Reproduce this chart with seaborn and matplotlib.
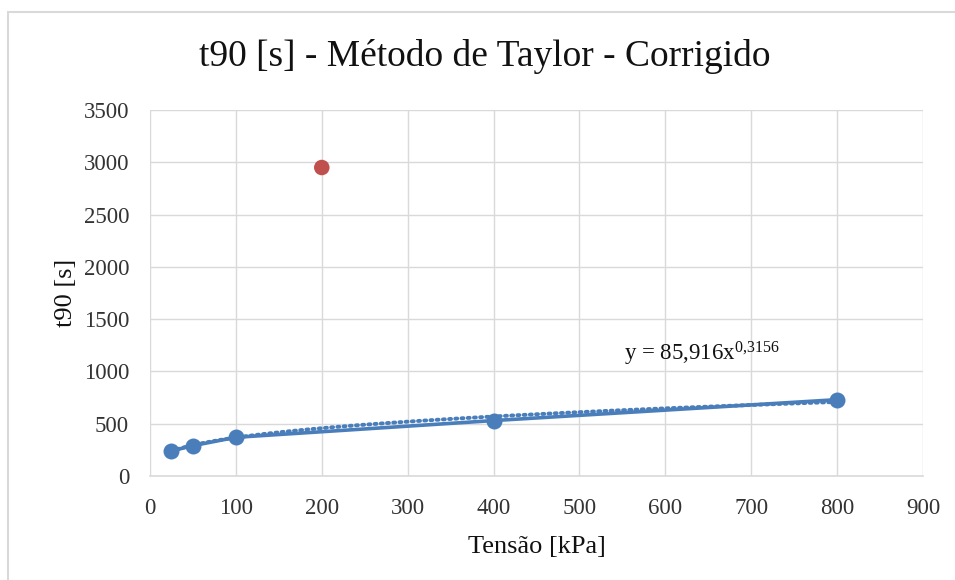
import numpy as np
import pandas as pd
import matplotlib
matplotlib.use("Agg")
import matplotlib.pyplot as plt
import seaborn as sns
from matplotlib.patches import Rectangle

# ---- data ----
tensao = [25, 50, 100, 400, 800]
t90 = [240, 290, 370, 530, 730]
outlier_x = [200]
outlier_y = [2950]
trend_coef = 85.916
trend_exp = 0.3156
x_ticks = [0, 100, 200, 300, 400, 500, 600, 700, 800, 900]
y_ticks = [0, 500, 1000, 1500, 2000, 2500, 3000, 3500]
title = "t90 [s] - Método de Taylor - Corrigido"
xlabel = "Tensão [kPa]"
ylabel = "t90 [s]"

sns.set_theme(style="white")
plt.rcParams["font.family"] = ["Liberation Serif", "DejaVu Serif"]
plt.rcParams["mathtext.fontset"] = "custom"
plt.rcParams["mathtext.rm"] = "Liberation Serif"
plt.rcParams["mathtext.it"] = "Liberation Serif"

blue = "#4A7EBB"
red = "#C0504D"
grid = "#D9D9D9"

fig = plt.figure(figsize=(9.55, 5.8), dpi=100)
ax = fig.add_axes([150/955, 1-476/580, (923-150)/955, (476-110)/580])

df = pd.DataFrame({"x": tensao, "y": t90})
tx = np.linspace(min(tensao), max(tensao), 200)
trend = pd.DataFrame({"x": tx, "y": trend_coef * tx ** trend_exp})

sns.lineplot(data=trend, x="x", y="y", ax=ax, color=blue, lw=2.8,
             linestyle=(0, (0.5, 1.1)), dash_capstyle="round", zorder=3)
sns.lineplot(data=df, x="x", y="y", ax=ax, color=blue, lw=2.6, marker="o",
             markersize=11.5, markeredgewidth=0, zorder=4)
sns.scatterplot(x=outlier_x, y=outlier_y, ax=ax, color=red, s=125,
                edgecolor="none", zorder=5)

ax.set_xlim(0, 900)
ax.set_ylim(0, 3500)
ax.set_xticks(x_ticks)
ax.set_yticks(y_ticks)
ax.set_xticklabels([str(v) for v in x_ticks], fontsize=16.5)
ax.set_yticklabels([str(v) for v in y_ticks], fontsize=16.5)
ax.tick_params(axis="y", length=0, pad=15, colors="#333333")
ax.tick_params(axis="x", length=0, pad=16, colors="#333333")
ax.grid(True, color=grid, lw=1)
for s in ["top", "right", "left"]:
    ax.spines[s].set_visible(False)
ax.spines["bottom"].set_color(grid)
ax.spines["bottom"].set_linewidth(1.2)

ax.set_xlabel(xlabel, fontsize=19, color="#111111", labelpad=12)
ax.set_ylabel(ylabel, fontsize=19, color="#111111", labelpad=5)

fig.text(485/955, 1-57/580, title, ha="center", va="center", fontsize=27, color="#111111")

ax.text(552, 1170, r"y = 85,916x$^{0{,}3156}$", fontsize=16.5, color="#111111",
        ha="left", va="center")

fig.patches.append(Rectangle((8/955, -0.1), 1.2, 1-12/580+0.1, transform=fig.transFigure,
                             fill=False, edgecolor="#D9D9D9", lw=1.5, zorder=0))

fig.savefig("out.png", dpi=100)
